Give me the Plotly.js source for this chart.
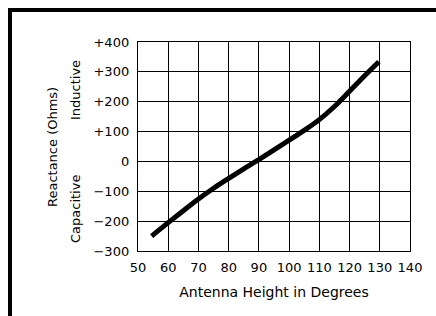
<!DOCTYPE html>
<html>
<head>
<meta charset="utf-8">
<script src="https://cdn.plot.ly/plotly-3.0.1.min.js"></script>
<style>html,body{margin:0;padding:0;background:#fff;}#chart{width:436px;height:316px;}</style>
</head>
<body>
<div id="chart"></div>
<script>
// Data
const heightDeg = [54.5, 60, 65, 70, 75, 80, 85, 89, 95, 100, 105, 110, 115, 120, 125, 129.7];
const reactance = [-250, -205, -165, -126, -90, -57, -25, 0, 39, 71, 104, 140, 184, 235, 287, 334];
const xTickVals = [50, 60, 70, 80, 90, 100, 110, 120, 130, 140];
const xTickText = ["50", "60", "70", "80", "90", "100", "110", "120", "130", "140"];
const yTickVals = [400, 300, 200, 100, 0, -100, -200, -300];
const yTickText = ["+400", "+300", "+200", "+100", "0", "\u2212100", "\u2212200", "\u2212300"];

const W = 436, H = 316;
const M = {l: 138, r: 26, t: 42, b: 65};
const pw = W - M.l - M.r, ph = H - M.t - M.b;
const px = x => (x - M.l) / pw;
const py = y => (H - M.b - y) / ph;

const font = {family: "DejaVu Sans, sans-serif", size: 13, color: "#000"};
const titleFont = {family: "DejaVu Sans, sans-serif", size: 14, color: "#000"};

const trace = {
  x: heightDeg, y: reactance, mode: "lines", type: "scatter",
  line: {color: "#000", width: 5, shape: "spline", smoothing: 1},
  hoverinfo: "skip"
};

const layout = {
  width: W, height: H,
  margin: M,
  paper_bgcolor: "#fff", plot_bgcolor: "#fff",
  showlegend: false,
  font: font,
  xaxis: {
    range: [50, 140], tickvals: xTickVals, ticktext: xTickText,
    showgrid: true, gridcolor: "#000", gridwidth: 1.2,
    showline: true, linecolor: "#000", linewidth: 1.2, mirror: true,
    zeroline: false, ticks: "", ticklabelstandoff: 4,
    tickfont: font,
    title: {text: "Antenna Height in Degrees", font: titleFont, standoff: 13}
  },
  yaxis: {
    range: [-300, 400], tickvals: yTickVals, ticktext: yTickText,
    showgrid: true, gridcolor: "#000", gridwidth: 1.2,
    showline: true, linecolor: "#000", linewidth: 1.2, mirror: true,
    zeroline: false, ticks: "", ticklabelstandoff: 5,
    tickfont: font
  },
  annotations: [
    {text: "Reactance (Ohms)", xref: "paper", yref: "paper", x: px(52), y: py(147),
     textangle: -90, showarrow: false, font: font, xanchor: "center", yanchor: "middle"},
    {text: "Inductive", xref: "paper", yref: "paper", x: px(75), y: py(90),
     textangle: -90, showarrow: false, font: font, xanchor: "center", yanchor: "middle"},
    {text: "Capacitive", xref: "paper", yref: "paper", x: px(75), y: py(209),
     textangle: -90, showarrow: false, font: font, xanchor: "center", yanchor: "middle"}
  ],
  shapes: [
    {type: "line", xref: "paper", yref: "paper", x0: px(8), x1: px(436), y0: py(10), y1: py(10),
     line: {color: "#000", width: 4}},
    {type: "line", xref: "paper", yref: "paper", x0: px(10), x1: px(10), y0: py(8), y1: py(316),
     line: {color: "#000", width: 4}}
  ]
};

Plotly.newPlot("chart", [trace], layout, {staticPlot: true, displayModeBar: false});
</script>
</body>
</html>
